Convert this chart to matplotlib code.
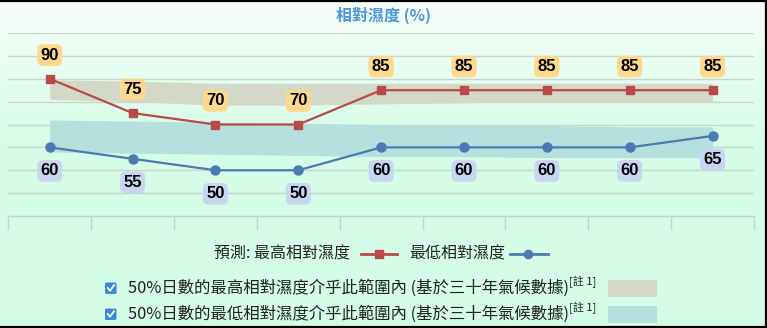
import matplotlib
matplotlib.use("Agg")
import matplotlib.pyplot as plt
import numpy as np
from matplotlib.lines import Line2D
from matplotlib.patches import FancyBboxPatch, Rectangle

# ---- data ----
days = ["", "", "", "", "", "", "", "", ""]
max_rh = [90, 75, 70, 70, 85, 85, 85, 85, 85]
min_rh = [60, 55, 50, 50, 60, 60, 60, 60, 65]
max_band_lo = [81, 80, 78.5, 78.5, 79, 79.5, 80, 80, 80]
max_band_hi = [89.5, 89, 88, 88, 88, 88, 88, 88, 88]
min_band_lo = [58, 57.5, 57, 56.5, 56, 56, 55.5, 55.5, 55.5]
min_band_hi = [72, 71.5, 71, 70.5, 70, 69.5, 69.5, 69, 69]
yticks = [40, 50, 60, 70, 80, 90, 100, 110]

title = "相對濕度 (%)"
leg_prefix = "預測: 最高相對濕度"
leg_min = "最低相對濕度"
band_max_label = "50%日數的最高相對濕度介乎此範圍內 (基於三十年氣候數據)"
band_min_label = "50%日數的最低相對濕度介乎此範圍內 (基於三十年氣候數據)"
note = "[註 1]"

W, H = 767, 328
RED = "#b94a48"
BLUE = "#4a7ab4"
RED_BAND = "#d4d8c8"
BLUE_BAND = "#b6e0de"
CJK = ["Noto Sans CJK TC", "DejaVu Sans"]

fig = plt.figure(figsize=(W / 100, H / 100), dpi=100)

def fx(x):
    return x / W

def fy(y):
    return 1 - y / H

# background gradient
bg = fig.add_axes([0, 0, 1, 1], zorder=-10)
top = np.array([0.97, 0.995, 0.98])
bot = np.array([0.835, 0.99, 0.905])
t = np.clip(np.linspace(0, 1, H) / 0.45, 0, 1)[:, None]
grad = top * (1 - t) + bot * t
bg.imshow(grad[:, None, :].repeat(4, axis=1), aspect="auto", extent=[0, 1, 0, 1])
bg.set_axis_off()

# main axes
x0, x1 = 8.3, 754
ytop, ybot = 33, 216
ax = fig.add_axes([fx(x0), fy(ybot), fx(x1) - fx(x0), fy(ytop) - fy(ybot)])
ax.set_facecolor("none")
x = np.arange(len(max_rh))
ax.set_xlim(-0.5, len(max_rh) - 0.5)
ax.set_ylim(30, 110)

for v in yticks:
    ax.axhline(v, color="#c9d6cf", lw=1, zorder=1)

ax.fill_between(x, max_band_lo, max_band_hi, color=RED_BAND, lw=0, zorder=2)
ax.fill_between(x, min_band_lo, min_band_hi, color=BLUE_BAND, lw=0, zorder=2)

ax.plot(x, max_rh, color=RED, lw=1.6, marker="s", ms=6, zorder=4)
ax.plot(x, min_rh, color=BLUE, lw=1.6, marker="o", ms=6.5, zorder=4)

lab_font = dict(family="Liberation Sans", weight="bold", size=12, color="black")
for xi, v in zip(x, max_rh):
    ax.annotate(str(v), (xi, v), xytext=(0, 17), textcoords="offset points",
                ha="center", va="center", zorder=6, **lab_font,
                bbox=dict(boxstyle="round,pad=0.2,rounding_size=0.35",
                          fc="#fcd98c", ec="none"))
for xi, v in zip(x, min_rh):
    ax.annotate(str(v), (xi, v), xytext=(0, -17), textcoords="offset points",
                ha="center", va="center", zorder=6, **lab_font,
                bbox=dict(boxstyle="round,pad=0.2,rounding_size=0.35",
                          fc="#c8d6ef", ec="none"))

ax.set_xticks(np.arange(-0.5, len(max_rh), 1))
ax.set_xticklabels([""] * (len(max_rh) + 1))
ax.set_yticks([])
ax.tick_params(axis="x", direction="out", length=10, width=1, color="#c4d2dc")
for s in ["top", "left", "right"]:
    ax.spines[s].set_visible(False)
ax.spines["bottom"].set_color("#c4d2dc")
ax.spines["bottom"].set_linewidth(1)

# title
fig.text(fx(383), fy(15), title, ha="center", va="center", fontsize=11.5,
         fontweight="bold", color="#4a98dc", family=CJK)

# legend row 1
ly = 254
fig.text(fx(214), fy(ly), leg_prefix, ha="left", va="center", fontsize=11.5,
         color="#222222", family=CJK)
fig.add_artist(Line2D([fx(361), fx(397)], [fy(ly), fy(ly)], color=RED, lw=2,
                      transform=fig.transFigure))
fig.add_artist(Line2D([fx(379)], [fy(ly)], color=RED, marker="s", ms=6,
                      transform=fig.transFigure))
fig.text(fx(409), fy(ly), leg_min, ha="left", va="center", fontsize=11.5,
         color="#222222", family=CJK)
fig.add_artist(Line2D([fx(510), fx(548)], [fy(ly), fy(ly)], color=BLUE, lw=2,
                      transform=fig.transFigure))
fig.add_artist(Line2D([fx(528)], [fy(ly)], color=BLUE, marker="o", ms=6,
                      transform=fig.transFigure))

# band legend rows
for ry, lab, col in [(288, band_max_label, RED_BAND), (314, band_min_label, BLUE_BAND)]:
    cb = FancyBboxPatch((fx(105), fy(ry + 6)), fx(11.5), 11.5 / H,
                        boxstyle="round,pad=0,rounding_size=0.003",
                        fc="#3d88d8", ec="none", transform=fig.transFigure)
    fig.add_artist(cb)
    fig.add_artist(Line2D([fx(107.8), fx(110), fx(114)],
                          [fy(ry), fy(ry + 2.8), fy(ry - 2.8)], color="white",
                          lw=1.3, transform=fig.transFigure))
    fig.text(fx(128), fy(ry), lab, ha="left", va="center", fontsize=11.8,
             color="#222222", family=CJK)
    fig.text(fx(569), fy(ry - 6), note, ha="left", va="center", fontsize=8,
             color="#222222", family=CJK)
    fig.add_artist(Rectangle((fx(608), fy(ry + 8.5)), fx(49), 17 / H, fc=col,
                             ec="none", transform=fig.transFigure))

# border (top, right, bottom)
for xs, ys in [([0, 1], [fy(0.8), fy(0.8)]), ([fx(765.8), fx(765.8)], [0, 1]),
               ([0, 1], [fy(327.2), fy(327.2)])]:
    fig.add_artist(Line2D(xs, ys, color="black", lw=1.6, transform=fig.transFigure))

fig.savefig("out.png", dpi=100)
